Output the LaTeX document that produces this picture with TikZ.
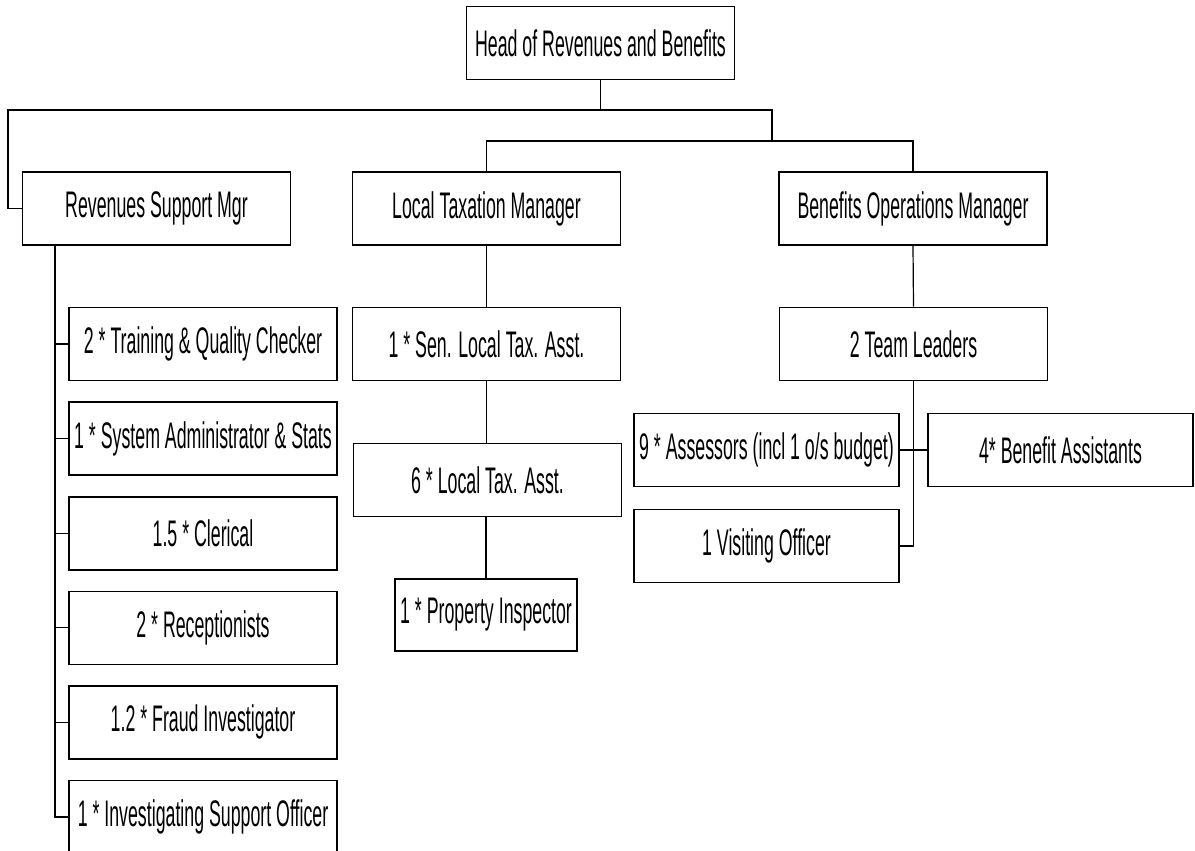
\documentclass[tikz,border=0pt]{standalone}
\usepackage{fontspec}
\setsansfont{Liberation Sans}[FakeStretch=0.48]
\begin{document}
\begin{tikzpicture}[x=1pt,y=-1pt,font=\sffamily\fontsize{37}{40}\selectfont,
        box/.style={draw,line width=1.6pt,inner sep=0pt,minimum width=268,minimum height=73},
        link/.style={line width=1.2pt}]
        \useasboundingbox (0,0) rectangle (1195,851);

        % Top of the tree
        \node[box] (head) at (600.5,43) {Head of Revenues and Benefits};
        \node[box] (rsm) at (156.5,208.5) {Revenues Support Mgr};
        \node[box] (ltm) at (486.5,208.5) {Local Taxation Manager};
        \node[box] (bom) at (913,208.5) {Benefits Operations Manager};

        % Revenues support staff
        \node[box] (r1) at (203,344) {2 * Training \& Quality Checker};
        \node[box] (r2) at (203,438.6) {1 * System Administrator \& Stats};
        \node[box] (r3) at (203,533.2) {1.5 * Clerical};
        \node[box] (r4) at (203,627.8) {2 * Receptionists};
        \node[box] (r5) at (203,722.4) {1.2 * Fraud Investigator};
        \node[box] (r6) at (203,817) {1 * Investigating Support Officer};

        % Local taxation staff
        \node[box] (sen) at (486.5,344) {1 * Sen. Local Tax. Asst.};
        \node[box] (lta) at (487.5,480) {6 * Local Tax. Asst.};
        \node[box,minimum width=182,minimum height=72] (insp) at (486,615) {1 * Property Inspector};

        % Benefits staff
        \node[box] (team) at (913.5,344) {2 Team Leaders};
        \node[box,minimum width=265] (assess) at (766.5,450) {9 * Assessors (incl 1 o/s budget)};
        \node[box,minimum width=265] (assist) at (1060.5,450) {4* Benefit Assistants};
        \node[box,minimum width=265] (visit) at (766.5,546) {1 Visiting Officer};

        % Bus lines
        \coordinate (bus1) at (8,110);
        \coordinate (bus2) at (772,141);
        \coordinate (rspine) at (55,0);
        \draw[link] (head.south) -- (head.south |- bus1);
        \draw[link] (rsm.west) -| (bus1) -| (bus2);
        \draw[link] (ltm.north) |- (bus2);
        \draw[link] (bom.north) |- (bus2);

        % Left spine
        \draw[link] (rsm.south -| rspine) |- (r6.west);
        \foreach \i in {1,...,5}
            \draw[link] (r\i.west) -- (r\i.west -| rspine);

        % Middle chain
        \draw[link] (ltm.south) -- (sen.north);
        \draw[link] (sen.south) -- (lta.north -| sen.south);
        \draw[link] (lta.south -| insp.north) -- (insp.north);

        % Right side
        \draw[link] (bom.south) -- (team.north);
        \draw[link] (team.south) |- (visit.east);
        \draw[link] (assess.east) -- (assist.west);
\end{tikzpicture}
\end{document}
